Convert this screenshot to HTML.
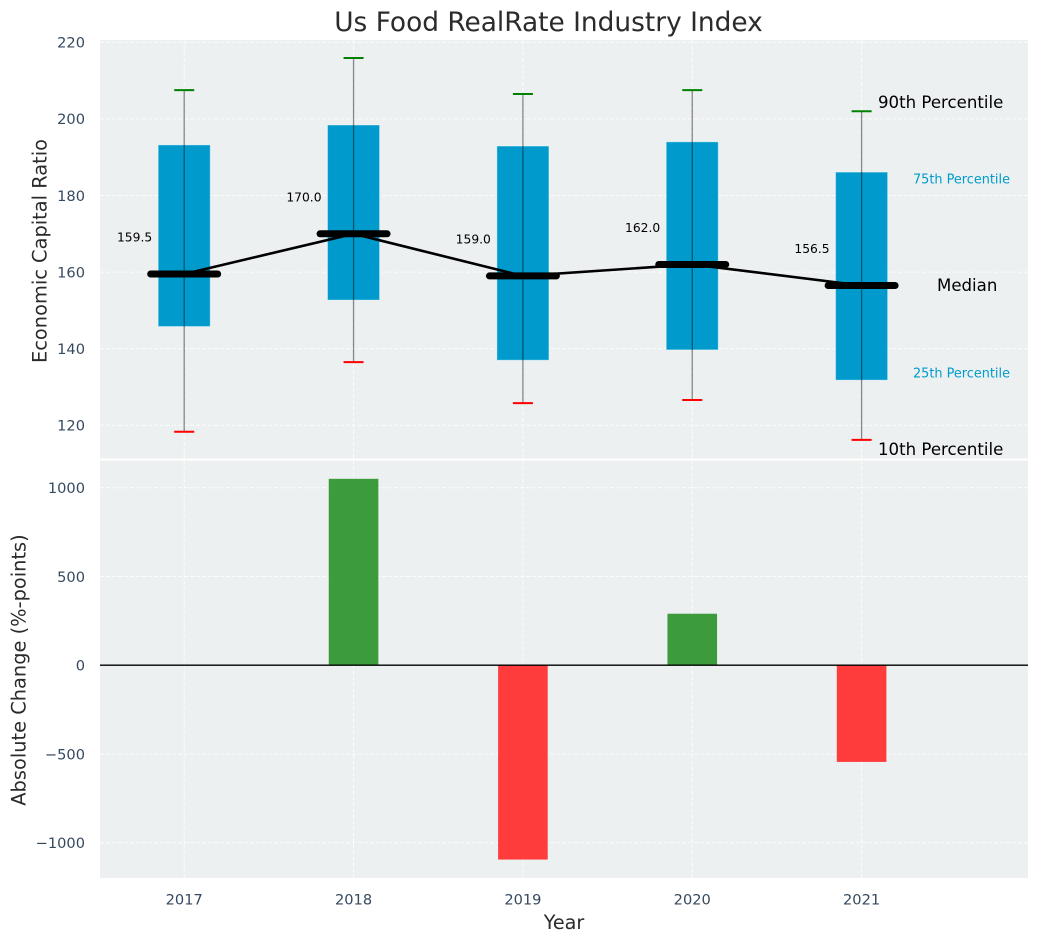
<!DOCTYPE html>
<html lang="en">
<head>
<meta charset="utf-8">
<title>Us Food RealRate Industry Index</title>
<style>
html,body{margin:0;padding:0;background:#fff;width:1039px;height:942px;overflow:hidden}
svg{display:block;font-family:"DejaVu Sans","Liberation Sans",sans-serif}
</style>
</head>
<body>
<svg id="chart" width="1039" height="942" viewBox="0 0 1039 942" xmlns="http://www.w3.org/2000/svg"></svg>
<script>
const years = [2017, 2018, 2019, 2020, 2021];
const p90 = [207.5, 215.9, 206.5, 207.5, 202];
const p75 = [193.2, 198.4, 192.9, 194, 186.1];
const medians = [159.5, 170, 159, 162, 156.5];
const p25 = [145.8, 152.7, 137, 139.7, 131.8];
const p10 = [118.3, 136.5, 125.8, 126.6, 116.2];
const changes = [0, 1050, -1095, 290, -545];
const topTicks = [120, 140, 160, 180, 200, 220];
const bottomTicks = [-1000, -500, 0, 500, 1000];

const svg = document.getElementById('chart');
const NS = 'http://www.w3.org/2000/svg';
function add(parent, tag, attrs, name, text) {
  const el = document.createElementNS(NS, tag);
  for (const k in attrs) el.setAttribute(k, attrs[k]);
  
  
  if (text !== undefined) el.textContent = text;
  parent.appendChild(el);
  return el;
}
const L = 100, R = 1028, T1 = 40, B1 = 458.5, T2 = 460.5, B2 = 878;
const xScale = v => 184.2 + (v - 2017) * 169.35;
const yTop = v => 425.3 - (v - 120) * 3.83;
const yBot = v => 665.2 - v * 0.1775;
const tickColor = '#34495e', labelColor = '#2b2b2b', bg = '#ecf0f1';

add(svg, 'rect', {x: L, y: T1, width: R - L, height: B1 - T1, fill: bg}, 'top-plot-background');
add(svg, 'rect', {x: L, y: T2, width: R - L, height: B2 - T2, fill: bg}, 'bottom-plot-background');

const gridAttrs = {stroke: '#fff', 'stroke-width': 1, 'stroke-dasharray': '4 2', opacity: 0.85};
topTicks.forEach(t => {
  add(svg, 'line', {x1: L, x2: R, y1: yTop(t), y2: yTop(t), ...gridAttrs}, 'top-grid-line-y');
  add(svg, 'text', {x: 85, y: yTop(t) + 5.3, 'text-anchor': 'end', 'font-size': 14.6, fill: tickColor}, 'top-y-tick-label', String(t));
});
bottomTicks.forEach(t => {
  add(svg, 'line', {x1: L, x2: R, y1: yBot(t), y2: yBot(t), ...gridAttrs}, 'bottom-grid-line-y');
  add(svg, 'text', {x: 85, y: yBot(t) + 5.3, 'text-anchor': 'end', 'font-size': 14.6, fill: tickColor}, 'bottom-y-tick-label', String(t).replace('-', '\u2212'));
});
years.forEach(y => {
  const x = xScale(y);
  add(svg, 'line', {x1: x, x2: x, y1: T1, y2: B1, ...gridAttrs}, 'top-grid-line-x');
  add(svg, 'line', {x1: x, x2: x, y1: T2, y2: B2, ...gridAttrs}, 'bottom-grid-line-x');
  add(svg, 'text', {x: x, y: 904.5, 'text-anchor': 'middle', 'font-size': 14.6, fill: tickColor}, 'x-tick-label', String(y));
});

const boxHalf = 26, medHalf = 33.5, capHalf = 10, barHalf = 24.8;

years.forEach((y, i) => {
  const x = xScale(y);
  add(svg, 'rect', {x: x - boxHalf, y: yTop(p75[i]), width: boxHalf * 2, height: yTop(p25[i]) - yTop(p75[i]), fill: '#009bcc', stroke: '#fff', 'stroke-opacity': 0.35, 'stroke-width': 1}, 'box-' + y);
});
years.forEach((y, i) => {
  const x = xScale(y);
  add(svg, 'line', {x1: x, x2: x, y1: yTop(p90[i]), y2: yTop(p10[i]), stroke: '#000', 'stroke-opacity': 0.45, 'stroke-width': 1.3}, 'whisker-' + y);
  add(svg, 'line', {x1: x - capHalf, x2: x + capHalf, y1: yTop(p90[i]), y2: yTop(p90[i]), stroke: '#008000', 'stroke-width': 2}, 'cap-90th-' + y);
  add(svg, 'line', {x1: x - capHalf, x2: x + capHalf, y1: yTop(p10[i]), y2: yTop(p10[i]), stroke: '#ff0000', 'stroke-width': 2}, 'cap-10th-' + y);
});
const medianPts = years.map((y, i) => xScale(y) + ',' + yTop(medians[i])).join(' ');
add(svg, 'polyline', {points: medianPts, fill: 'none', stroke: '#000', 'stroke-width': 2.6}, 'median-trend-line');
years.forEach((y, i) => {
  const x = xScale(y);
  add(svg, 'line', {x1: x - medHalf, x2: x + medHalf, y1: yTop(medians[i]), y2: yTop(medians[i]), stroke: '#000', 'stroke-width': 7, 'stroke-linecap': 'round'}, 'median-bar-' + y);
  add(svg, 'text', {x: x - 32, y: yTop(medians[i]) - 32.5, 'text-anchor': 'end', 'font-size': 12.3, fill: '#000'}, 'median-value-' + y, medians[i].toFixed(1));
});

years.forEach((y, i) => {
  if (changes[i] === 0) return;
  const x = xScale(y);
  const top = Math.min(yBot(changes[i]), yBot(0));
  const h = Math.abs(yBot(changes[i]) - yBot(0));
  add(svg, 'rect', {x: x - barHalf, y: top, width: barHalf * 2, height: h, fill: changes[i] > 0 ? '#3c9c3c' : '#ff3c3c'}, 'change-bar-' + y);
});
add(svg, 'line', {x1: L, x2: R, y1: yBot(0), y2: yBot(0), stroke: '#000', 'stroke-width': 1.3}, 'zero-line');

add(svg, 'text', {x: 878, y: 108, 'font-size': 16.6, fill: '#000'}, 'annotation-90th-percentile', '90th Percentile');
add(svg, 'text', {x: 913, y: 183.5, 'font-size': 12.85, fill: '#009bcc'}, 'annotation-75th-percentile', '75th Percentile');
add(svg, 'text', {x: 937, y: 291, 'font-size': 16.6, fill: '#000'}, 'annotation-median', 'Median');
add(svg, 'text', {x: 913, y: 377.5, 'font-size': 12.85, fill: '#009bcc'}, 'annotation-25th-percentile', '25th Percentile');
add(svg, 'text', {x: 878, y: 455, 'font-size': 16.6, fill: '#000'}, 'annotation-10th-percentile', '10th Percentile');

add(svg, 'text', {x: 548.5, y: 31, 'text-anchor': 'middle', 'font-size': 26.4, fill: labelColor}, 'chart-title', 'Us Food RealRate Industry Index');
add(svg, 'text', {x: 564, y: 929, 'text-anchor': 'middle', 'font-size': 19.2, fill: labelColor}, 'x-axis-title', 'Year');
add(svg, 'text', {x: 0, y: 0, transform: 'translate(46.5,251) rotate(-90)', 'text-anchor': 'middle', 'font-size': 19.4, fill: labelColor}, 'top-y-axis-title', 'Economic Capital Ratio');
add(svg, 'text', {x: 0, y: 0, transform: 'translate(25.5,670) rotate(-90)', 'text-anchor': 'middle', 'font-size': 19.4, fill: labelColor}, 'bottom-y-axis-title', 'Absolute Change (%-points)');
</script>
</body>
</html>
